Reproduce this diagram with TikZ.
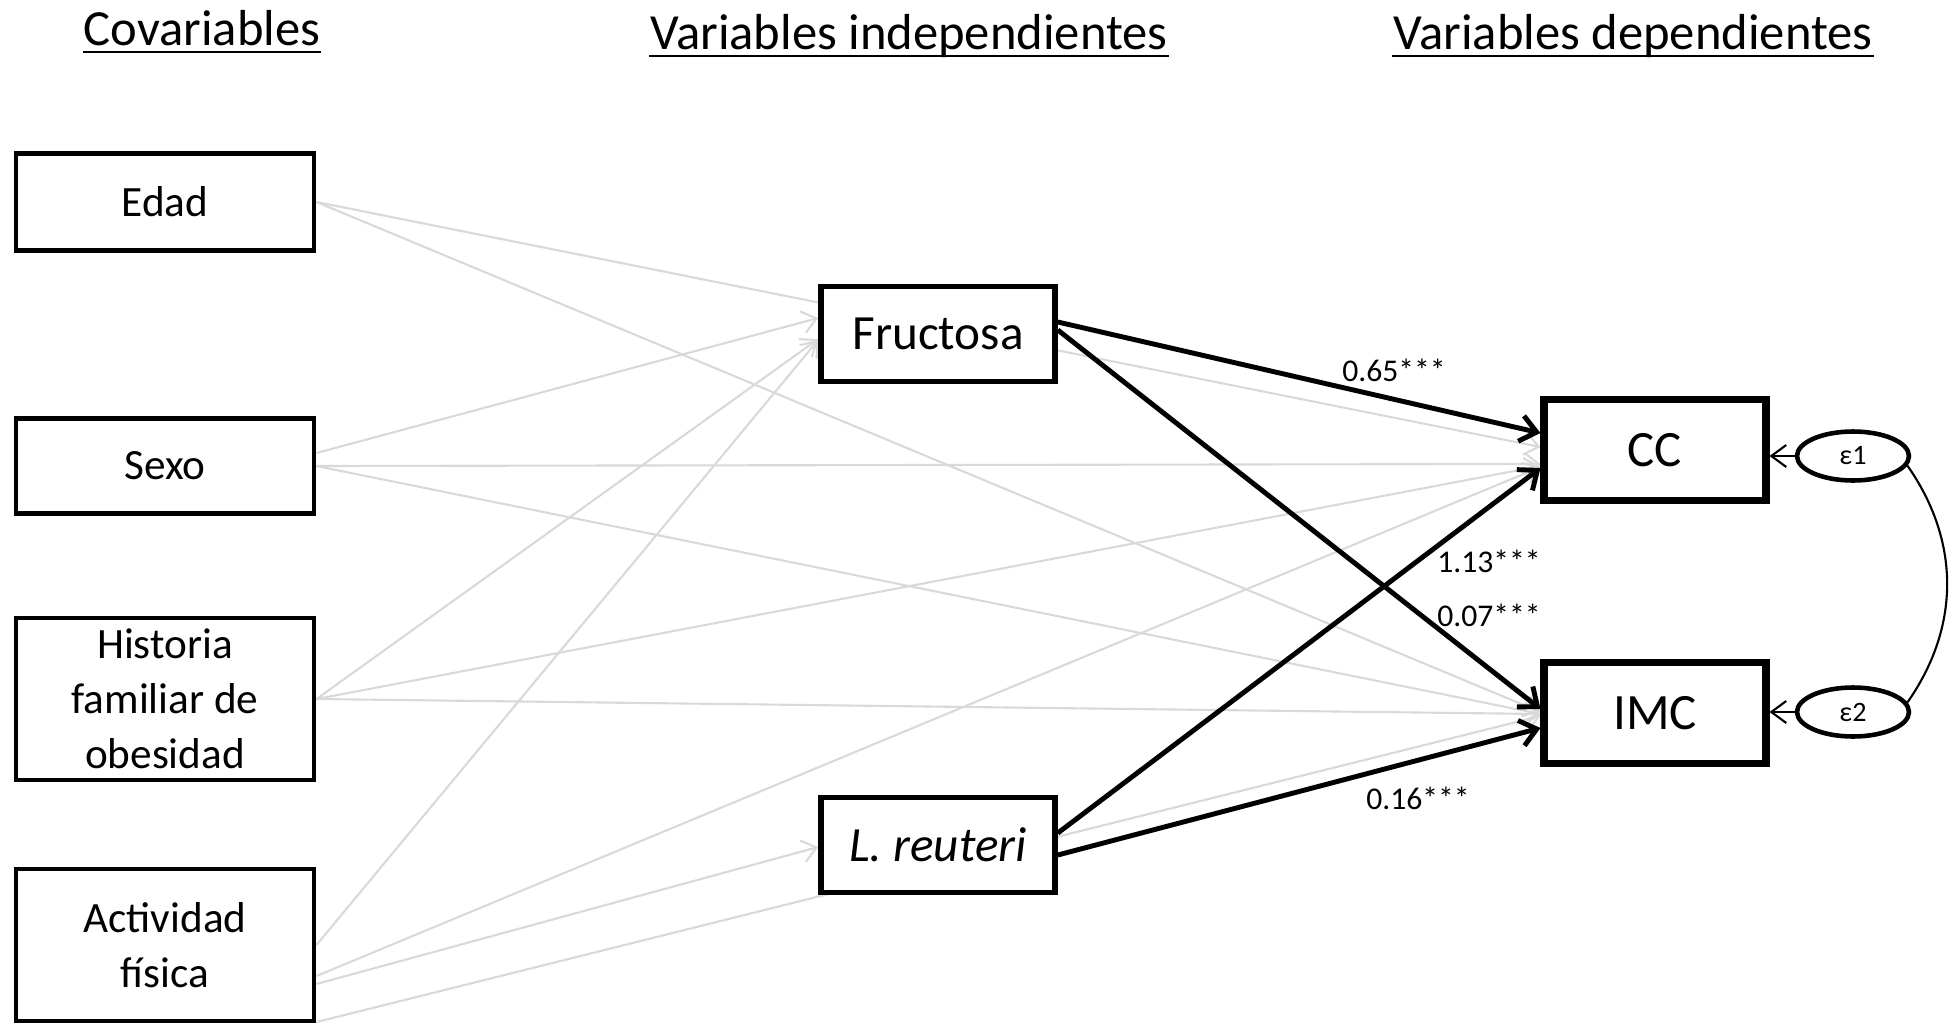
\documentclass[tikz,border=0pt]{standalone}
\usepackage{fontspec}
\setmainfont{Carlito}
\usetikzlibrary{arrows.meta,shapes.geometric,backgrounds}

\begin{document}
\begin{tikzpicture}[x=0.1mm,y=-0.1mm,>={Straight Barb[length=1.6mm,width=2.6mm]},
                    semithick]
  \tikzstyle{covar}=[draw=black,line width=1.4pt,fill=white,minimum width=29.8mm,
                     align=center,inner sep=0pt,font=\fontsize{12.3}{15.6}\selectfont]
  \tikzstyle{indep}=[draw=black,line width=1.6pt,fill=white,minimum width=23.4mm,
                     minimum height=9.5mm,font=\fontsize{14}{17}\selectfont]
  \tikzstyle{dep}=[draw=black,line width=2pt,fill=white,minimum width=22.2mm,
                   minimum height=10.1mm,font=\fontsize{14.5}{17}\selectfont]
  \tikzstyle{resid}=[ellipse,draw=black,line width=1.3pt,minimum width=11.2mm,
                     minimum height=4.9mm,inner sep=0pt,font=\fontsize{8}{9}\selectfont]
  \tikzstyle{head}=[anchor=base,inner sep=0pt,font=\fontsize{14.4}{17}\selectfont]
  \tikzstyle{coef}=[font=\fontsize{9}{10}\selectfont]
  \tikzstyle{effect}=[draw=black,line width=1.4pt,->]
  \tikzstyle{cov}=[draw=black!15,line width=0.6pt,
                   -{Straight Barb[length=1.4mm,width=2.2mm]}]
  \tikzstyle{err}=[draw=black,line width=0.6pt,
                   -{Straight Barb[length=1.5mm,width=2.2mm]}]

  \useasboundingbox (0,0) rectangle (1957,1026);

  % titulos
  \node[head] (hcov) at (202,45) {Covariables};
  \node[head] (hind) at (909,49) {Variables independientes};
  \node[head] (hdep) at (1633,49) {Variables dependientes};
  \foreach \h in {hcov,hind,hdep}
    \draw[line width=0.8pt] ([yshift=-0.7mm]\h.base west) -- ([yshift=-0.7mm]\h.base east);

  % covariables
  \node[covar,minimum height=9.7mm]  (edad)  at (165,202) {Edad};
  \node[covar,minimum height=9.5mm]  (sexo)  at (165,466) {Sexo};
  \node[covar,minimum height=16.2mm] (hist)  at (165,699) {Historia\\familiar de\\obesidad};
  \node[covar,minimum height=15.2mm] (activ) at (165,945) {Actividad\\física};

  % independientes y dependientes
  \node[indep] (fruc) at (938,334) {Fructosa};
  \node[indep] (lreu) at (938,845) {\textit{L. reuteri}};
  \node[dep]   (cc)   at (1655,450) {CC};
  \node[dep]   (imc)  at (1655,713) {IMC};
  \node[resid] (e1)   at (1853,456) {ε1};
  \node[resid] (e2)   at (1853,712) {ε2};

  \node[coef] (b1) at (1394,370) {0.65***};
  \node[coef] (b2) at (1489,561) {1.13***};
  \node[coef] (b3) at (1489,615) {0.07***};
  \node[coef] (b4) at (1418,798) {0.16***};

  \begin{scope}[on background layer]
  \path (edad.east) edge [cov] ([yshift=0.3mm]cc.west)
                    edge [cov] ([yshift=0.1mm]imc.west)
        ([yshift=1.3mm]sexo.east) edge [cov] ([yshift=1.6mm]fruc.west)
        (sexo.east) edge [cov] ([yshift=-1.4mm]cc.west)
                    edge [cov] ([yshift=-0.1mm]imc.west)
        (hist.east) edge [cov] ([yshift=-0.5mm]fruc.west)
                    edge [cov] ([yshift=-1.6mm]cc.west)
                    edge [cov] ([yshift=-0.1mm]imc.west)
        (activ.east) edge [cov] ([yshift=-0.6mm]fruc.west)
        ([yshift=-3.1mm]activ.east) edge [cov] ([yshift=-1.7mm]cc.west)
        ([yshift=-3.9mm]activ.east) edge [cov] ([yshift=-0.2mm]lreu.west)
        ([yshift=-7.7mm]activ.east) edge [cov] ([yshift=-0.3mm]imc.west);
  \end{scope}

  \path ([yshift=1.2mm]fruc.east) edge [effect] ([yshift=1.7mm]cc.west)
        ([yshift=0.4mm]fruc.east) edge [effect] ([yshift=0.4mm]imc.west)
        ([yshift=1.2mm]lreu.east) edge [effect] ([yshift=-1.8mm]cc.west)
        ([yshift=-1mm]lreu.east)  edge [effect] ([yshift=-1.5mm]imc.west);

  \path (e1.west) edge [err] (cc.east |- e1.west)
        (e2.west) edge [err] (imc.east |- e2.west)
        (e1.-10) edge [draw=black,line width=0.6pt,out=-55,in=55] (e2.10);
\end{tikzpicture}
\end{document}
